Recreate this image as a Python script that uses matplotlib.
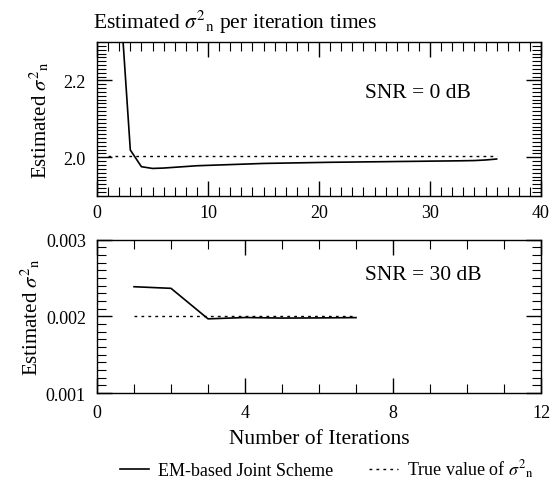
import matplotlib
matplotlib.use("Agg")
import matplotlib.pyplot as plt
from matplotlib.ticker import MultipleLocator, FormatStrFormatter

plt.rcParams['font.family'] = ['Liberation Serif', 'DejaVu Serif']
plt.rcParams['mathtext.fontset'] = 'stix'

# SNR = 0 dB
iters_0db = list(range(1, 37))
est_0db = [2.87, 2.45, 2.019, 1.9755, 1.971, 1.972, 1.974, 1.976, 1.978, 1.979,
           1.980, 1.981, 1.982, 1.983, 1.984, 1.9845, 1.985, 1.9855, 1.986, 1.9865,
           1.987, 1.9873, 1.9876, 1.988, 1.9883, 1.9886, 1.989, 1.9893, 1.9896, 1.990,
           1.9903, 1.9906, 1.991, 1.9915, 1.993, 1.9955]
true_0db = 2.004

# SNR = 30 dB
iters_30db = [1, 2, 3, 4, 5, 6, 7]
est_30db = [0.002387, 0.002366, 0.001968, 0.001985, 0.001978, 0.001980, 0.001984]
true_30db = 0.002

sig = r'$\sigma^{2}{}_{\mathrm{n}}$'
ylab = 'Estimated ' + sig

fig = plt.figure(figsize=(5.5, 4.85), dpi=100)
ax1 = fig.add_axes([0.1764, 0.5944, 0.8073, 0.3169])
ax2 = fig.add_axes([0.1764, 0.1876, 0.8073, 0.316])

def style(ax):
    ax.tick_params(which='both', direction='in', top=True, right=True, labelsize=13, pad=8)
    ax.tick_params(which='major', length=10.5, width=1)
    ax.tick_params(which='minor', length=6.5, width=0.8)
    for s in ax.spines.values():
        s.set_linewidth(1)

# top panel
l1, = ax1.plot(iters_0db, est_0db, color='black', lw=1.2)
l2, = ax1.plot([iters_0db[0], iters_0db[-1]], [true_0db, true_0db], color='black',
               lw=1, linestyle=(0, (2, 3)))
ax1.set_xlim(0, 40)
ax1.set_ylim(1.9, 2.3)
ax1.xaxis.set_major_locator(MultipleLocator(10))
ax1.xaxis.set_minor_locator(MultipleLocator(1))
ax1.yaxis.set_minor_locator(MultipleLocator(0.01))
ax1.set_yticks([2.0, 2.2])
ax1.yaxis.set_major_formatter(FormatStrFormatter('%.1f'))
style(ax1)
ax1.tick_params(axis='x', pad=6)
ax1.set_ylabel(ylab, fontsize=15, labelpad=8)
ax1.set_title('Estimated ' + sig + ' per iteration times', loc='left', fontsize=15.5,
              x=-0.01, pad=10)
ax1.text(24.1, 2.168, 'SNR = 0 dB', fontsize=15.5, va='center')

# bottom panel
ax2.plot(iters_30db, est_30db, color='black', lw=1.2)
ax2.plot([iters_30db[0], iters_30db[-1]], [true_30db, true_30db], color='black',
         lw=1, linestyle=(0, (2, 3)))
ax2.set_xlim(0, 12)
ax2.set_ylim(0.001, 0.003)
ax2.xaxis.set_major_locator(MultipleLocator(4))
ax2.xaxis.set_minor_locator(MultipleLocator(1))
ax2.yaxis.set_major_locator(MultipleLocator(0.001))
ax2.yaxis.set_minor_locator(MultipleLocator(0.0001))
ax2.yaxis.set_major_formatter(FormatStrFormatter('%.3f'))
style(ax2)
ax2.set_ylabel(ylab, fontsize=15, labelpad=2)
ax2.set_xlabel('Number of Iterations', fontsize=15.5, labelpad=6)
ax2.text(7.24, 0.00255, 'SNR = 30 dB', fontsize=15.5, va='center')

fig.legend([l1, l2], ['EM-based Joint Scheme', 'True value of ' + sig],
           loc='lower center', bbox_to_anchor=(0.595, -0.025), ncol=2, frameon=False,
           fontsize=13, handlelength=1.6, handletextpad=0.5, columnspacing=2.0)

fig.savefig('out.png', dpi=100)
